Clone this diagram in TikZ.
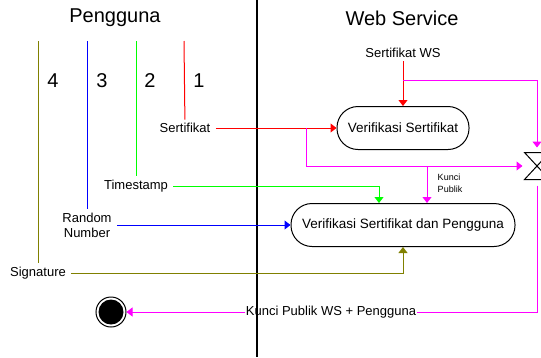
\documentclass[tikz,border=0pt]{standalone}
\usepackage{fontspec}
\setmainfont{Liberation Sans}
\usepackage{xcolor}
\usepackage{tikz}
\usetikzlibrary{arrows.meta}

\definecolor{merah}{RGB}{255,0,0}
\definecolor{hijau}{RGB}{0,255,0}
\definecolor{biru}{RGB}{0,0,255}
\definecolor{zaitun}{RGB}{128,128,0}
\definecolor{ungu}{RGB}{255,0,255}

\begin{document}
\begin{tikzpicture}[x=1pt,y=-1pt,line width=1pt,
  judul/.style={font=\fontsize{20}{22}\selectfont},
  angka/.style={font=\fontsize{20}{22}\selectfont},
  ket/.style={font=\fontsize{13}{16}\selectfont,align=center,inner xsep=5pt,inner ysep=3pt},
  aksi/.style={draw,rounded corners=21pt,minimum height=43pt,font=\fontsize{13.5}{16}\selectfont},
  panah/.style={-{Triangle[length=6pt,width=9pt]}}]
\useasboundingbox (0,0) rectangle (541,357);
\node[judul] (pengguna) at (115,18) {Pengguna};
\node[judul] (ws) at (402,18) {Web Service};
\draw[line width=1.6pt] (257,0) -- (257,357);
\node[angka] (n4) at (53,81) {4};
\node[angka] (n3) at (102,81) {3};
\node[angka] (n2) at (150,81) {2};
\node[angka] (n1) at (199,81) {1};
\coordinate (a4) at (38,41);
\coordinate (a3) at (87,41);
\coordinate (a2) at (136,41);
\coordinate (a1) at (184,41);
\node[ket] (sert) at (185,128) {Sertifikat};
\node[ket] (ts) at (136,186) {Timestamp};
\node[ket] (rn) at (87,225) {Random\\[-1pt]Number};
\node[ket] (sig) at (38,273) {Signature};
\draw[merah] (a1) -- (sert);
\draw[hijau] (a2) -- (ts);
\draw[biru] (a3) -- (rn);
\draw[zaitun] (a4) -- (sig);
\node[aksi,minimum width=132pt] (vs) at (403,128) {Verifikasi Sertifikat};
\node[aksi,minimum width=224pt] (vsp) at (403,225) {Verifikasi Sertifikat dan Pengguna};
\node[ket] (sws) at (403,53) {Sertifikat WS};
\node[minimum width=24pt,minimum height=26pt,inner sep=0pt] (xs) at (537,166) {};
\draw (xs.north west) -- (xs.north east) -- (xs.south west) -- (xs.south east) -- cycle;
\node[ket,inner sep=0pt] (kp) at (331,312) {Kunci Publik WS + Pengguna};
\node[circle,draw,minimum size=30pt,inner sep=0pt] (akhir) at (111,312) {};
\fill (akhir) circle (12.5);
\coordinate (c1) at (403,80);
\coordinate (c2) at (306,128);
\coordinate (c3) at (427,166);
\draw[merah,panah] (sws) -- (vs);
\draw[merah,panah] (sert) -- (vs);
\draw[ungu,panah] (c1) -| ([yshift=5pt]xs.north);
\draw[ungu,panah] (c2) |- ([xshift=-2pt]xs.west);
\draw[ungu,panah] (c3) -- ([xshift=24pt]vsp.north);
\node[font=\fontsize{9}{12}\selectfont,align=left] (kunci) at (450,183) {Kunci\\Publik};
\draw[hijau,panah] (ts) -| ([xshift=-24pt]vsp.north);
\draw[biru,panah] (rn) -- (vsp);
\draw[zaitun,panah] (sig) -| (vsp);
\draw[ungu] ([yshift=-6pt]xs.south) |- (kp);
\draw[ungu,panah] (kp) -- (akhir);
\end{tikzpicture}
\end{document}
